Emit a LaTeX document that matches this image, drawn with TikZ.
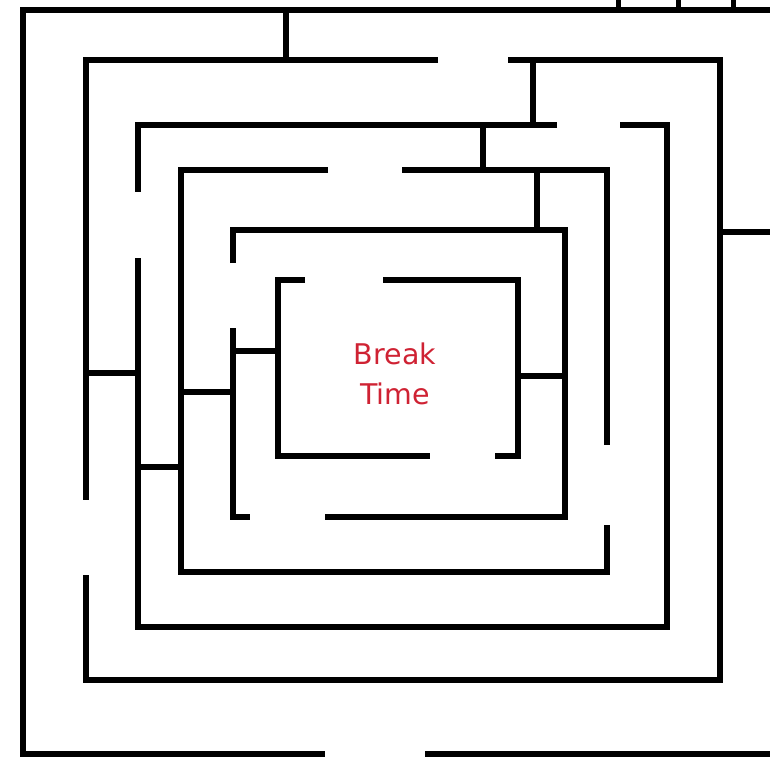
\documentclass[tikz,border=0pt]{standalone}
\usepackage{fontspec}
\newfontfamily\goalfont{DejaVu Sans}
\usetikzlibrary{positioning}
\definecolor{mzRed}{HTML}{CF2233}
\tikzset{
  wall/.style={draw=black, line width=5.5pt, line join=miter},
  spoke/.style={draw=black, line width=5pt},
  goal/.style={font=\goalfont\fontsize{28.5}{40}\selectfont, text=mzRed, align=center, inner sep=0pt},
}

\begin{document}
\begin{tikzpicture}[x=1pt, y=-1pt]
  \useasboundingbox (0,0) rectangle (770,766);

  % ── Ring 1 (outer wall, open on the right) ──
  \draw[wall] (772,10) -- (23,10) -- (23,754) -- (325,754);
  \draw[wall] (425,754) -- (772,754);
  % stubs above the top wall
  \foreach \x in {618,678,733} {
    \draw[spoke] (\x,-2) -- (\x,10);
  }

  % ── Ring 2 ──
  \draw[wall] (438,60) -- (86,60) -- (86,500);
  \draw[wall] (86,575) -- (86,680) -- (720,680) -- (720,60) -- (508,60);
  \draw[wall] (286,10) -- (286,60);   % ring 1 -> ring 2
  \draw[wall] (720,232) -- (772,232); % right exit wall
  \draw[wall] (533,60) -- (533,125);  % ring 2 -> ring 3
  \draw[wall] (86,373) -- (138,373);  % ring 2 -> ring 3

  % ── Ring 3 ──
  \draw[wall] (557,125) -- (138,125) -- (138,192);
  \draw[wall] (138,258) -- (138,627) -- (667,627) -- (667,125) -- (620,125);
  \draw[wall] (483,125) -- (483,170);  % ring 3 -> ring 4
  \draw[wall] (138,467) -- (181,467);  % ring 3 -> ring 4

  % ── Ring 4 ──
  \draw[wall] (328,170) -- (181,170) -- (181,572) -- (607,572) -- (607,525);
  \draw[wall] (402,170) -- (607,170) -- (607,445);
  \draw[wall] (537,170) -- (537,230);  % ring 4 -> ring 5
  \draw[wall] (181,392) -- (233,392);  % ring 4 -> ring 5

  % ── Ring 5 ──
  \draw[wall] (233,263) -- (233,230) -- (565,230) -- (565,517) -- (325,517);
  \draw[wall] (233,328) -- (233,517) -- (250,517);
  \draw[wall] (233,351) -- (278,351);  % ring 5 -> ring 6
  \draw[wall] (518,376) -- (565,376);  % ring 6 -> ring 5

  % ── Ring 6 (centre room) ──
  \draw[wall] (305,280) -- (278,280) -- (278,456) -- (430,456);
  \draw[wall] (383,280) -- (518,280) -- (518,456) -- (495,456);

  % ── Goal label ──
  \node[goal] (breaktime) at (395,374) {Break\\Time};
\end{tikzpicture}
\end{document}
